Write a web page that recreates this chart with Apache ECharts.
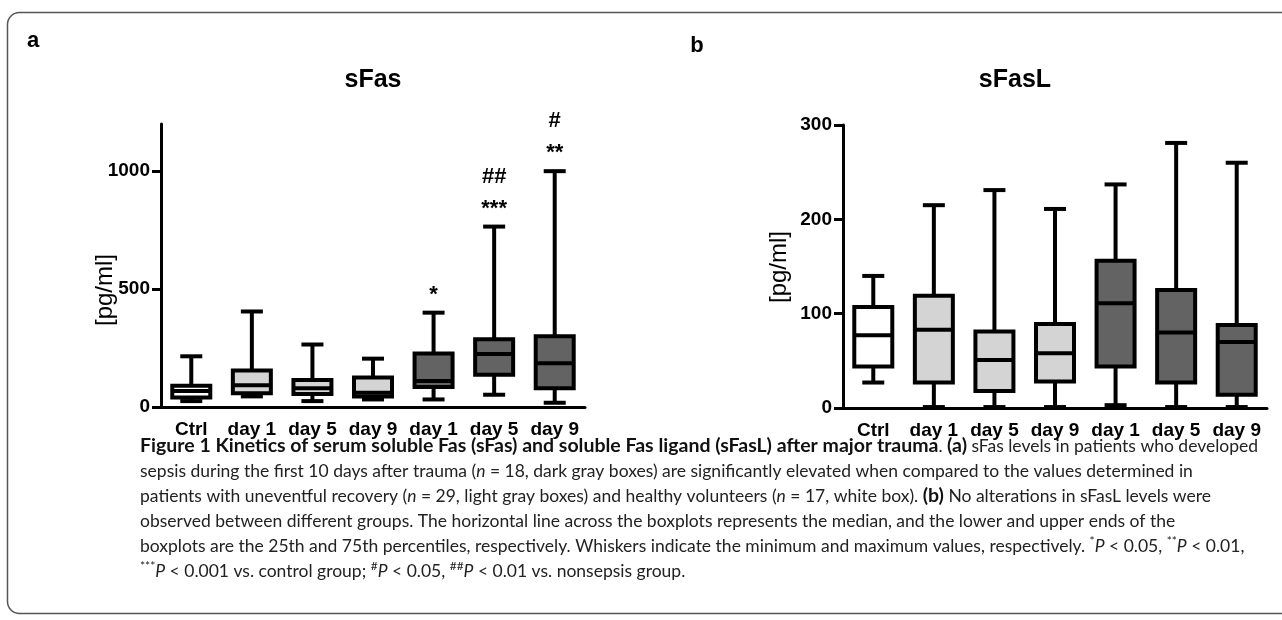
<!DOCTYPE html>
<html><head><meta charset="utf-8">
<script src="https://cdn.jsdelivr.net/npm/echarts@6/dist/echarts.min.js"></script>
<style>html,body{margin:0;padding:0;background:#fff}#c{width:1282px;height:620px}</style>
</head><body><div id="c"></div>
<script>
// ---- data ----
const categories = ['Ctrl', 'day 1', 'day 5', 'day 9', 'day 1', 'day 5', 'day 9'];
const groups = ['control', 'nonsepsis', 'nonsepsis', 'nonsepsis', 'sepsis', 'sepsis', 'sepsis'];

const sFasMin    = [25, 45, 25, 32, 32, 52, 18];
const sFasQ1     = [40, 58, 55, 45, 85, 137, 80];
const sFasMedian = [68, 92, 80, 60, 110, 225, 185];
const sFasQ3     = [90, 155, 115, 125, 227, 287, 300];
const sFasMax    = [215, 405, 265, 205, 400, 765, 1000];
const sFasSigCtrl = ['', '', '', '', '*', '***', '**'];
const sFasSigNonsepsis = ['', '', '', '', '', '##', '#'];
const sFasTicks = [0, 500, 1000];

const sFasLMin    = [27, 1, 1, 1, 3, 1, 1];
const sFasLQ1     = [44, 27, 18, 28, 44, 27, 14];
const sFasLMedian = [77, 83, 51, 58, 111, 80, 70];
const sFasLQ3     = [107, 119, 81, 89, 156, 125, 88];
const sFasLMax    = [140, 215, 231, 211, 237, 281, 260];
const sFasLSigCtrl = ['', '', '', '', '', '', ''];
const sFasLSigNonsepsis = ['', '', '', '', '', '', ''];
const sFasLTicks = [0, 100, 200, 300];

// ---- styles ----
const fillColors = { control: '#ffffff', nonsepsis: '#d4d4d4', sepsis: '#636363' };
const AX = '"Liberation Sans", Arial, sans-serif';
const CAP = 'Lato, "Open Sans", sans-serif';
const CFS = 17.5, CFB = 19.5;

function boxData(mn, q1, md, q3, mx, s1, s2) {
  return categories.map((c, i) => [i, mn[i], q1[i], md[i], q3[i], mx[i], s1[i], s2[i]]);
}

function renderBox(params, api) {
  const idx = api.value(0);
  const cx = api.coord([idx, 0])[0];
  const Y = v => api.coord([idx, v])[1];
  const yMin = Y(api.value(1)), yQ1 = Y(api.value(2)), yMed = Y(api.value(3)),
        yQ3 = Y(api.value(4)), yMax = Y(api.value(5));
  const bw = 38, cw = 22;
  const ln = { stroke: '#000', lineWidth: 4, lineCap: 'butt' };
  const children = [
    { type: 'line', shape: { x1: cx, y1: yQ3, x2: cx, y2: yMax }, style: ln },
    { type: 'line', shape: { x1: cx, y1: yQ1, x2: cx, y2: yMin }, style: ln },
    { type: 'line', shape: { x1: cx - cw / 2, y1: yMax, x2: cx + cw / 2, y2: yMax }, style: ln },
    { type: 'line', shape: { x1: cx - cw / 2, y1: yMin, x2: cx + cw / 2, y2: yMin }, style: ln },
    { type: 'rect', shape: { x: cx - bw / 2, y: yQ3, width: bw, height: yQ1 - yQ3 },
      style: { fill: fillColors[groups[idx]], stroke: '#000', lineWidth: 4 } },
    { type: 'line', shape: { x1: cx - bw / 2, y1: yMed, x2: cx + bw / 2, y2: yMed }, style: ln }
  ];
  const sigA = api.value(6), sigB = api.value(7);
  if (sigA) children.push({ type: 'text', style: { text: sigA, x: cx, y: yMax - 18, fill: '#000',
      font: 'bold 22px ' + AX, align: 'center', verticalAlign: 'middle' } });
  if (sigB) children.push({ type: 'text', style: { text: sigB, x: cx, y: yMax - 50, fill: '#000',
      font: 'bold 22px ' + AX, align: 'center', verticalAlign: 'middle' } });
  return { type: 'group', children };
}

function xAxisCfg(gi) {
  return {
    type: 'category', gridIndex: gi, data: categories, boundaryGap: true,
    axisLine: { lineStyle: { color: '#000', width: 3 } },
    axisTick: { alignWithLabel: true, length: 9, lineStyle: { color: '#000', width: 3 } },
    axisLabel: { color: '#000', fontSize: 19, fontWeight: 'bold', fontFamily: AX, margin: 13, interval: 0 },
    splitLine: { show: false }
  };
}
function yAxisCfg(gi, max, interval, ticks) {
  return {
    type: 'value', gridIndex: gi, min: 0, max: max, interval: interval,
    axisLine: { show: true, lineStyle: { color: '#000', width: 3 } },
    axisTick: { show: true, length: 9, lineStyle: { color: '#000', width: 3 }, customValues: ticks },
    axisLabel: { color: '#000', fontSize: 19, fontWeight: 'bold', fontFamily: AX, margin: 11,
      customValues: ticks, formatter: v => String(v) },
    splitLine: { show: false }
  };
}

const chart = echarts.init(document.getElementById('c'), null, { renderer: 'canvas' });
const captionRich = {
  r: { fontFamily: CAP, fontSize: CFS, fill: '#222', lineHeight: 25 },
  b: { fontFamily: CAP, fontSize: CFB, fontWeight: 'bold', fill: '#111', lineHeight: 25 },
  i: { fontFamily: CAP, fontSize: CFS, fontStyle: 'italic', fill: '#222', lineHeight: 25 },
  s: { fontFamily: CAP, fontSize: 12, fill: '#222', lineHeight: 25, verticalAlign: 'top', padding: [2, 0, 0, 0] }
};
const captionLines = [
  '{b|Figure 1 Kinetics of serum soluble Fas (sFas) and soluble Fas ligand (sFasL) after major trauma}{r|. }{b|(a)}{r| sFas levels in patients who developed}',
  '{r|sepsis during the first 10 days after trauma (}{i|n}{r| = 18, dark gray boxes) are significantly elevated when compared to the values determined in}',
  '{r|patients with uneventful recovery (}{i|n}{r| = 29, light gray boxes) and healthy volunteers (}{i|n}{r| = 17, white box). }{b|(b)}{r| No alterations in sFasL levels were}',
  '{r|observed between different groups. The horizontal line across the boxplots represents the median, and the lower and upper ends of the}',
  '{r|boxplots are the 25th and 75th percentiles, respectively. Whiskers indicate the minimum and maximum values, respectively. }{s|*}{i|P}{r| < 0.05, }{s|**}{i|P}{r| < 0.01,}',
  '{s|***}{i|P}{r| < 0.001 vs. control group; }{s|#}{i|P}{r| < 0.05, }{s|##}{i|P}{r| < 0.01 vs. nonsepsis group.}'
];
const graphics = [
  { type: 'rect', shape: { x: 7.5, y: 12.5, width: 1320, height: 601, r: 12 },
    style: { fill: 'none', stroke: '#555', lineWidth: 1.5 }, silent: true },
  { type: 'text', x: 33, y: 41, style: { text: 'a', font: 'bold 22px ' + AX, fill: '#000', align: 'center', verticalAlign: 'middle' } },
  { type: 'text', x: 697, y: 46, style: { text: 'b', font: 'bold 22px ' + AX, fill: '#000', align: 'center', verticalAlign: 'middle' } },
  { type: 'text', x: 373, y: 80, style: { text: 'sFas', font: 'bold 25px ' + AX, fill: '#000', align: 'center', verticalAlign: 'middle' } },
  { type: 'text', x: 1015, y: 80, style: { text: 'sFasL', font: 'bold 25px ' + AX, fill: '#000', align: 'center', verticalAlign: 'middle' } },
  { type: 'text', x: 105, y: 290, rotation: Math.PI / 2, style: { text: '[pg/ml]', font: '24px ' + AX, fill: '#000', align: 'center', verticalAlign: 'middle' } },
  { type: 'text', x: 779, y: 267, rotation: Math.PI / 2, style: { text: '[pg/ml]', font: '24px ' + AX, fill: '#000', align: 'center', verticalAlign: 'middle' } }
];
captionLines.forEach((t, k) => {
  graphics.push({ type: 'text', x: 140, y: 446 + k * 25,
    style: { text: t, rich: captionRich, fontFamily: CAP, fontSize: CFS, fill: '#222', align: 'left', verticalAlign: 'middle' } });
});

chart.setOption({
  animation: false,
  backgroundColor: '#fff',
  grid: [
    { left: 161, top: 124, width: 424, height: 283, outerBoundsMode: 'none', containLabel: false },
    { left: 843, top: 125, width: 424, height: 283, outerBoundsMode: 'none', containLabel: false }
  ],
  xAxis: [xAxisCfg(0), xAxisCfg(1)],
  yAxis: [yAxisCfg(0, 1200, 500, sFasTicks), yAxisCfg(1, 300, 100, sFasLTicks)],
  series: [
    { type: 'custom', xAxisIndex: 0, yAxisIndex: 0, clip: false, renderItem: renderBox,
      encode: { x: 0, y: [1, 2, 3, 4, 5] },
      data: boxData(sFasMin, sFasQ1, sFasMedian, sFasQ3, sFasMax, sFasSigCtrl, sFasSigNonsepsis) },
    { type: 'custom', xAxisIndex: 1, yAxisIndex: 1, clip: false, renderItem: renderBox,
      encode: { x: 0, y: [1, 2, 3, 4, 5] },
      data: boxData(sFasLMin, sFasLQ1, sFasLMedian, sFasLQ3, sFasLMax, sFasLSigCtrl, sFasLSigNonsepsis) }
  ],
  graphic: graphics
});
</script></body></html>
